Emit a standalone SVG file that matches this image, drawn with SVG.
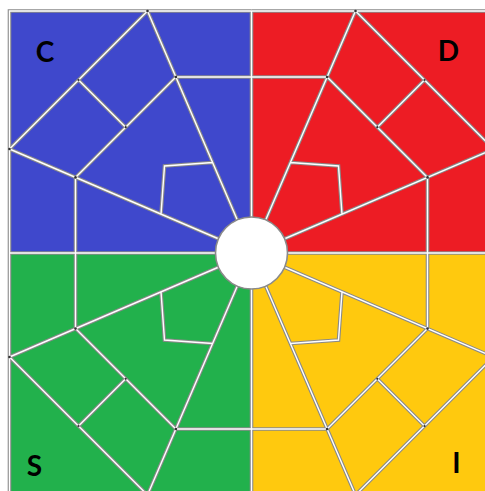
<svg xmlns="http://www.w3.org/2000/svg" xmlns:xlink="http://www.w3.org/1999/xlink" width="485" height="491" viewBox="0 0 485 491">
  <style>
    .outer { fill: none; stroke: #8a8a8a; stroke-width: 3.6; stroke-linejoin: miter; }
    .inner { fill: none; stroke: #ffffff; stroke-width: 1.4; stroke-linejoin: miter; }
    .dot { fill: #333333; }
    .label { font-family: Lato, "Liberation Sans", "DejaVu Sans", sans-serif; font-weight: 700; font-size: 28px; fill: #000000; text-anchor: middle; }
  </style>
  <defs>
    <path id="pattern" d="M -104 -242 L 0 0 M -242 -104 L 0 0 M -104 -242 L -242 -104 M -75.6 -176 L 0 -176 M -176 -75.6 L -176 0 M -75.6 -176 L -176 -75.6 M -125.8 -125.8 L -173 -173 M -90.5 -38.9 L -87 -87 L -38.9 -90.5 M -242 0 L -242 -242 L 0 -242"/>
    <g id="dots">
      <circle class="dot" cx="-104" cy="-242" r="1.3"/>
      <circle class="dot" cx="-242" cy="-104" r="1.3"/>
      <circle class="dot" cx="-75.6" cy="-176" r="1.3"/>
      <circle class="dot" cx="-176" cy="-75.6" r="1.3"/>
      <circle class="dot" cx="-125.8" cy="-125.8" r="1.1"/>
      <circle class="dot" cx="-173" cy="-173" r="1.1"/>
    </g>
    <path id="dividers" d="M 251.5 11 V 491 M 9.5 253 H 485"/>
  </defs>

  <rect x="0" y="0" width="485" height="491" fill="#ffffff"/>

  <g id="quadrant-C">
    <rect x="9.5" y="11" width="242" height="242" fill="#3F48CC"/>
  </g>
  <g id="quadrant-D">
    <rect x="251.5" y="11" width="233.5" height="242" fill="#ED1C24"/>
  </g>
  <g id="quadrant-S">
    <rect x="9.5" y="253" width="242" height="238" fill="#22B14C"/>
  </g>
  <g id="quadrant-I">
    <rect x="251.5" y="253" width="233.5" height="238" fill="#FFC90E"/>
  </g>

  <g id="connectors">
    <g class="outer">
      <use xlink:href="#pattern" transform="translate(251.5 253)"/>
      <use xlink:href="#pattern" transform="translate(251.5 253) scale(-1 1)"/>
      <use xlink:href="#pattern" transform="translate(251.5 253) scale(1 -1)"/>
      <use xlink:href="#pattern" transform="translate(251.5 253) scale(-1 -1)"/>
      <use xlink:href="#dividers"/>
    </g>
    <g class="inner">
      <use xlink:href="#pattern" transform="translate(251.5 253)"/>
      <use xlink:href="#pattern" transform="translate(251.5 253) scale(-1 1)"/>
      <use xlink:href="#pattern" transform="translate(251.5 253) scale(1 -1)"/>
      <use xlink:href="#pattern" transform="translate(251.5 253) scale(-1 -1)"/>
      <use xlink:href="#dividers"/>
    </g>
    <g>
      <use xlink:href="#dots" transform="translate(251.5 253)"/>
      <use xlink:href="#dots" transform="translate(251.5 253) scale(-1 1)"/>
      <use xlink:href="#dots" transform="translate(251.5 253) scale(1 -1)"/>
      <use xlink:href="#dots" transform="translate(251.5 253) scale(-1 -1)"/>
    </g>
  </g>

  <g id="center">
    <circle cx="251.5" cy="253" r="36" fill="#ffffff" stroke="#8a8a8a" stroke-width="1.6"/>
  </g>

  <g id="labels">
    <text class="label" x="45" y="62">C</text>
    <text class="label" x="448.5" y="60.5">D</text>
    <text class="label" x="34.5" y="475.5">S</text>
    <text class="label" x="456.5" y="472.5">I</text>
  </g>
</svg>
